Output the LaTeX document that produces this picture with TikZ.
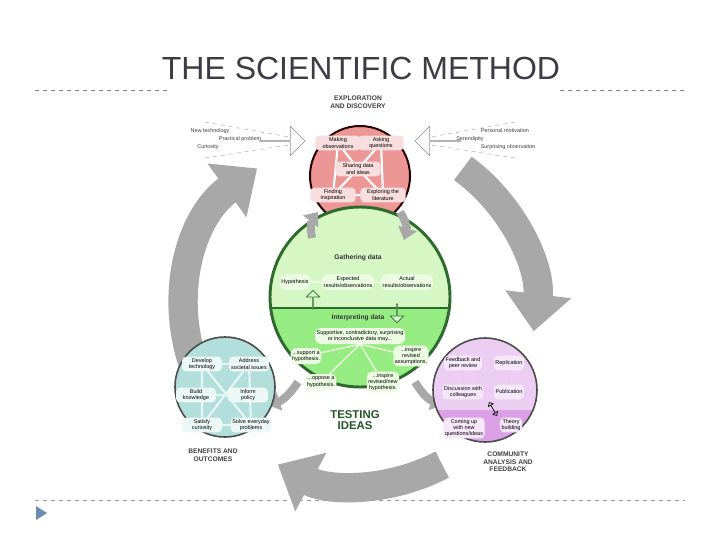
\documentclass[tikz,border=0pt]{standalone}
\usepackage{fontspec}
\setmainfont{Liberation Sans}
\usetikzlibrary{arrows.meta,shapes.arrows}
\definecolor{pinkf}{RGB}{236,150,150}
\definecolor{pinkn}{RGB}{248,222,222}
\definecolor{greenup}{RGB}{214,246,196}
\definecolor{greenlo}{RGB}{150,236,130}
\definecolor{greenn}{RGB}{236,252,226}
\definecolor{greenb}{RGB}{46,106,46}
\definecolor{bluef}{RGB}{178,222,220}
\definecolor{bluen}{RGB}{236,248,246}
\definecolor{purpu}{RGB}{236,206,242}
\definecolor{purplo}{RGB}{220,160,230}
\definecolor{purpn}{RGB}{246,232,250}
\definecolor{arrg}{RGB}{168,168,168}
\definecolor{titlec}{RGB}{60,60,70}
\definecolor{bullet}{RGB}{110,140,175}
\tikzset{
  tiny/.style={font=\fontsize{4.1}{4.7}\selectfont, align=center, inner sep=1.2pt},
  pnode/.style={tiny, fill=pinkn, rounded corners=3pt, minimum width=34pt, minimum height=11pt},
  gnode/.style={tiny, fill=greenn, rounded corners=4pt, minimum height=12pt},
  bnode/.style={tiny, fill=bluen, rounded corners=3pt, minimum width=30pt, minimum height=11pt},
  vnode/.style={tiny, fill=purpn, rounded corners=3pt, minimum height=11pt},
  side/.style={tiny, text=black!75},
  head/.style={font=\fontsize{5}{5.6}\selectfont\bfseries, align=center, text=black!75},
  link/.style={white, line width=1.6pt},
  bigarr/.style={arrg, line width=22pt, -{Triangle[width=48pt,length=28pt]}},
  smallarr/.style={arrg, line width=6pt, -{Triangle[width=14pt,length=9pt]}},
  hollow/.style={single arrow, draw=black!45, fill=white, line width=0.4pt, minimum height=34pt, minimum width=22pt, single arrow head extend=5pt, inner sep=0pt},
  vhollow/.style={single arrow, draw=greenb, fill=greenlo!40, line width=0.5pt, minimum height=14pt, minimum width=10pt, single arrow head extend=2.5pt, inner sep=0pt},
}
\begin{document}
\begin{tikzpicture}[x=0.75pt,y=-0.75pt]
\useasboundingbox (0,0) rectangle (720,540);
\fill[white] (0,0) rectangle (720,540);
% title and rules
\node[font=\fontsize{24}{28}\selectfont, text=titlec] (title) at (361,68) {THE SCIENTIFIC METHOD};
\draw[black!45, dashed, line width=0.5pt] (35,90) -- (168,90);
\draw[black!45, dashed, line width=0.5pt] (560,90) -- (685,90);
\draw[black!40, dashed, line width=0.5pt] (35,500) -- (685,500);
\fill[bullet] (36,506) -- (36,520) -- (47,513) -- cycle;
% big ring arrows (center 360,310, r 175)
\draw[bigarr] (360,310) ++(145:175) arc[start angle=145, end angle=234, radius=175];
\draw[bigarr] (360,310) ++(306:175) arc[start angle=306, end angle=367, radius=175];
\draw[bigarr] (360,310) ++(62:175) arc[start angle=62, end angle=118, radius=175];
% pink circle
\fill[pinkf] (360,176) circle (50);
\draw[black!60!red!40!black, line width=1.5pt] (360,176) circle (50);
\node[head] (exph) at (358,102) {EXPLORATION\\AND DISCOVERY};
\coordinate (mo) at (338,143);
\coordinate (aq) at (381,143);
\coordinate (fi) at (333,195);
\coordinate (el) at (383,195);
\coordinate (sd) at (358,169);
\draw[link] (mo) -- (aq) -- (el) -- (fi) -- cycle;
\draw[link] (mo) -- (sd) -- (el); \draw[link] (aq) -- (sd) -- (fi);
\node[pnode] (n1) at (mo) {Making\\observations};
\node[pnode] (n2) at (aq) {Asking\\questions};
\node[pnode] (n3) at (sd) {Sharing data\\and ideas};
\node[pnode] (n4) at (fi) {Finding\\inspiration};
\node[pnode] (n5) at (el) {Exploring the\\literature};
% side inputs
\draw[black!30, dashed, line width=0.4pt] (205,122) -- (295,138);
\draw[black!30, dashed, line width=0.4pt] (205,158) -- (295,144);
\draw[black!30, dashed, line width=0.4pt] (515,122) -- (425,138);
\draw[black!30, dashed, line width=0.4pt] (515,158) -- (425,144);
\node[hollow] (la) at (282,141) {};
\node[hollow, shape border rotate=180] (ra) at (438,141) {};
\node[side] (t1) at (210,131) {New technology};
\node[side] (t2) at (240,139) {Practical problem};
\node[side] (t3) at (208,147) {Curiosity};
\node[side] (t4) at (505,131) {Personal motivation};
\node[side] (t5) at (470,139) {Serendipity};
\node[side] (t6) at (508,147) {Surprising observation};
% green circle
\begin{scope}
\clip (360,297) circle (90);
\fill[greenup] (260,200) rectangle (460,308);
\fill[greenlo] (260,308) rectangle (460,400);
\end{scope}
\draw[greenb, line width=1pt] (270,308) -- (450,308);
\draw[greenb, line width=2.2pt] (360,297) circle (90);
% small arrows
\draw[smallarr] (312,238) to[bend left=25] (318,212);
\draw[smallarr] (400,212) to[bend left=25] (404,240);
\draw[smallarr] (298,382) to[bend left=20] (268,405);
\draw[smallarr] (415,382) to[bend right=20] (443,405);
\node[head, text=black!80] (gd) at (358,258) {Gathering data};
\node[gnode] (g1) at (295,282) {Hypothesis};
\node[gnode] (g2) at (348,282) {Expected\\results/observations};
\node[gnode] (g3) at (407,282) {Actual\\results/observations};
\draw[greenn, line width=1.2pt] (g1) -- (g2) -- (g3);
\node[vhollow, shape border rotate=90] (ua) at (313,300) {};
\node[vhollow, shape border rotate=270] (da) at (397,313) {};
\node[head, text=black!80] (idh) at (358,318) {Interpreting data};
\node[gnode, fill=greenn] (sup) at (360,336) {Supportive, contradictory, surprising\\or inconclusive data may...};
\node[gnode] (i1) at (306,356) {...support a\\hypothesis.};
\node[gnode] (i2) at (411,356) {...inspire\\revised\\assumptions.};
\node[gnode] (i3) at (321,382) {...oppose a\\hypothesis.};
\node[gnode] (i4) at (383,382) {...inspire\\revised/new\\hypothesis.};
\foreach \n in {i1,i2,i3,i4} \draw[greenn, line width=1pt] (sup.south) -- (\n);
\node[font=\fontsize{8.5}{8.5}\selectfont\bfseries, text=greenb!80!black, align=center] (ti) at (355,420) {TESTING\\IDEAS};
% blue circle
\fill[bluef] (225,387) circle (50);
\draw[black!70, line width=1.2pt] (225,387) circle (50);
\coordinate (b1) at (202,364); \coordinate (b2) at (249,364);
\coordinate (b3) at (196,395); \coordinate (b4) at (248,395);
\coordinate (b5) at (202,425); \coordinate (b6) at (251,425);
\draw[link, white!70!bluef] (b1) -- (b2) -- (b6) -- (b5) -- cycle;
\draw[link, white!70!bluef] (b1) -- (b6) (b2) -- (b5) (b3) -- (b4);
\node[bnode] (bn1) at (b1) {Develop\\technology};
\node[bnode] (bn2) at (b2) {Address\\societal issues};
\node[bnode] (bn3) at (b3) {Build\\knowledge};
\node[bnode] (bn4) at (b4) {Inform\\policy};
\node[bnode] (bn5) at (b5) {Satisfy\\curiosity};
\node[bnode] (bn6) at (b6) {Solve everyday\\problems};
\node[head] (boh) at (213,455) {BENEFITS AND\\OUTCOMES};
% purple circle
\begin{scope}
\clip (485,390) circle (52);
\fill[purpu] (430,335) rectangle (540,410);
\fill[purplo] (430,410) rectangle (540,445);
\end{scope}
\draw[black!70, line width=1.2pt] (485,390) circle (52);
\coordinate (p1) at (463,363); \coordinate (p2) at (509,363);
\coordinate (p3) at (463,392); \coordinate (p4) at (509,392);
\draw[link, purpn!60!purplo] (p1) -- (p2) -- (p4) -- (p3) -- cycle;
\draw[link, purpn!60!purplo] (p1) -- (p4) (p2) -- (p3);
\node[vnode] (pn1) at (p1) {Feedback and\\peer review};
\node[vnode] (pn2) at (p2) {Replication};
\node[vnode] (pn3) at (p3) {Discussion with\\colleagues};
\node[vnode] (pn4) at (p4) {Publication};
\node[vnode] (pn5) at (464,428) {Coming up\\with new\\questions/ideas};
\node[vnode] (pn6) at (511,425) {Theory\\building};
\draw[black, line width=0.5pt, {Triangle[open,width=5pt,length=3pt]}-{Triangle[open,width=5pt,length=3pt]}] (489,402) -- (497,416);
\node[head] (cah) at (508,462) {COMMUNITY\\ANALYSIS AND\\FEEDBACK};
\end{tikzpicture}
\end{document}
